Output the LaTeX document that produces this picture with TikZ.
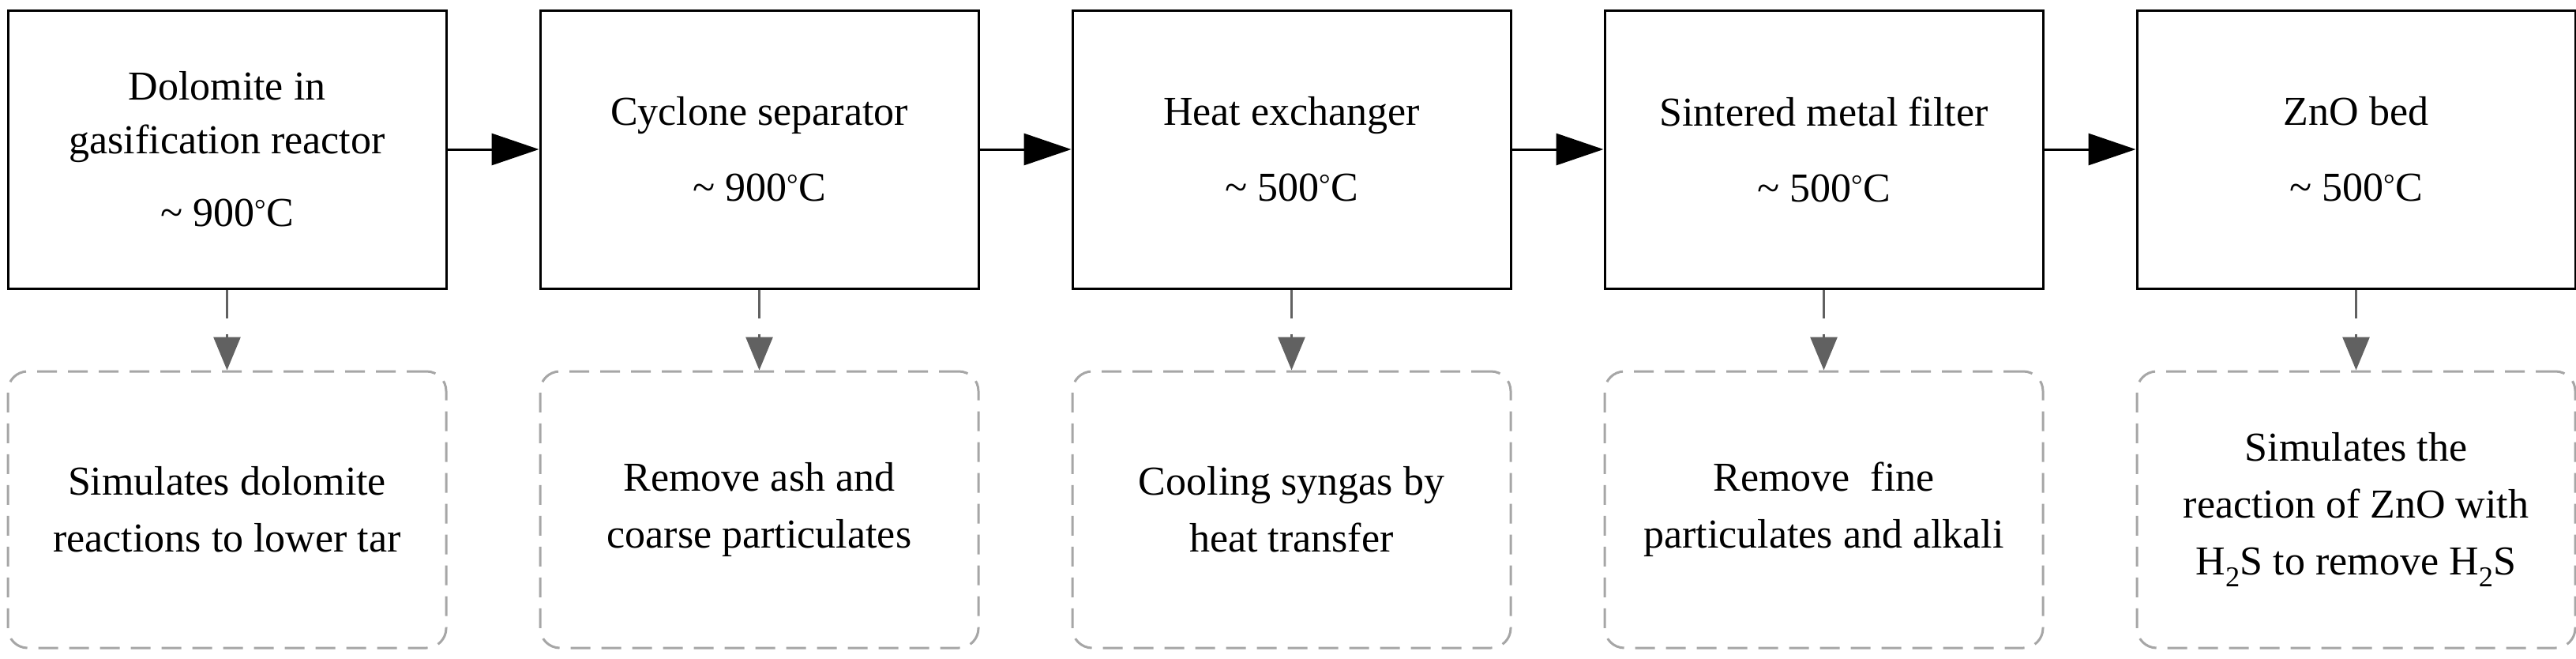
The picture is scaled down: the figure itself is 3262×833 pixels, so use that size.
\documentclass[tikz,border=0pt]{standalone}
\usepackage{fontspec}
\setmainfont{Liberation Serif}
\usetikzlibrary{arrows.meta}
\begin{document}
\begin{tikzpicture}[x=1pt,y=-1pt,
  mainbox/.style={draw,line width=3pt,minimum width=555pt,minimum height=352pt,inner sep=0pt,align=center,font=\fontsize{52}{68}\selectfont},
  notebox/.style={draw=gray!70,line width=3pt,dash pattern=on 25pt off 14pt,rounded corners=25pt,minimum width=555pt,minimum height=350pt,inner sep=0pt,align=center,font=\fontsize{52}{72}\selectfont},
  flow/.style={line width=3pt,-{Triangle[length=60pt,width=40pt]}},
  down/.style={line width=3pt,dash pattern=on 36pt off 20pt,-{Triangle[length=42pt,width=34pt]},color=black!62}]
\useasboundingbox (0,0) rectangle (3262,833);
\fill[white] (0,0) rectangle (3262,833);
\node[mainbox] (m1) at (287.5,189) {Dolomite in\\gasification reactor\\[24pt]\textasciitilde\ 900\textsuperscript{°}C};
\node[mainbox] (m2) at (961.5,189) {Cyclone separator\\[28pt]\textasciitilde\ 900\textsuperscript{°}C};
\node[mainbox] (m3) at (1635.5,189) {Heat exchanger\\[28pt]\textasciitilde\ 500\textsuperscript{°}C};
\node[mainbox] (m4) at (2309.5,189) {Sintered metal filter\\[28pt]\textasciitilde\ 500\textsuperscript{°}C};
\node[mainbox] (m5) at (2983.5,189) {ZnO bed\\[28pt]\textasciitilde\ 500\textsuperscript{°}C};
\node[notebox] (n1) at (287.5,645) {Simulates dolomite\\reactions to lower tar};
\node[notebox] (n2) at (961.5,645) {Remove ash and\\coarse particulates};
\node[notebox] (n3) at (1635.5,645) {Cooling syngas by\\heat transfer};
\node[notebox] (n4) at (2309.5,645) {Remove\ \ fine\\particulates and alkali};
\node[notebox] (n5) at (2983.5,645) {Simulates the\\reaction of ZnO with\\H\textsubscript{2}S to remove H\textsubscript{2}S};
\foreach \a/\b in {m1/m2,m2/m3,m3/m4,m4/m5}{
  \draw[flow] (\a.east) -- (\b.west);
}
\foreach \i in {1,...,5}{
  \draw[down] (m\i.south) -- (n\i.north);
}
\end{tikzpicture}
\end{document}
